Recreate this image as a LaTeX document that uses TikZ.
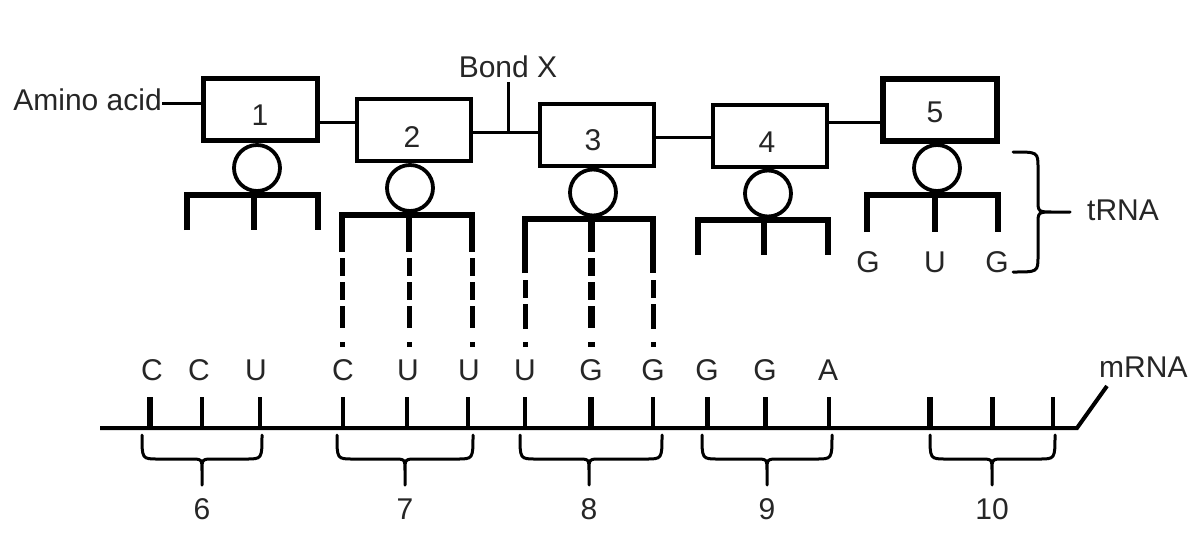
\documentclass[tikz,border=0pt]{standalone}
\usepackage{fontspec}
\setmainfont{Liberation Sans}

% brace under one codon of the mRNA: left end, right end, centre
\newcommand{\codonbrace}[3]{%
  \draw[curly] (#1,435) .. controls (#1,459) .. (#1+16,459) -- (#3-12,459)
      .. controls (#3,459) .. (#3,471) -- (#3,485)
    (#2,435) .. controls (#2,459) .. (#2-16,459) -- (#3+12,459)
      .. controls (#3,459) .. (#3,471);}

\begin{document}
\begin{tikzpicture}[x=1pt,y=-1pt,
  lbl/.style={font=\fontsize{30}{35}\selectfont, text=black!85, inner sep=0pt},
  box/.style={draw, line width=4.5pt, minimum width=114pt, minimum height=62pt, inner sep=0pt},
  loop/.style={draw, circle, line width=3.8pt, minimum size=46pt, inner sep=0pt},
  bond/.style={line width=3pt},
  arm/.style={line width=5.5pt, line join=miter},
  pairing/.style={line width=5pt, dash pattern=on 18pt off 6pt on 18pt off 6pt on 22pt off 14pt on 5pt},
  pairingb/.style={line width=5pt, dash pattern=on 18pt off 6pt on 25pt off 13pt on 5pt},
  strand/.style={line width=4pt, line join=miter},
  curly/.style={line width=3pt, line cap=round}]

\useasboundingbox[fill=white] (0,0) rectangle (1200,549);

% ---- amino acids (boxes) of the growing chain ----
\node[box] (b1) at (260.5,109.5) {};
\node[box] (b2) at (414,130) {};
\node[box] (b3) at (597,135) {};
\node[box] (b4) at (770,136) {};
\node[box, line width=6.5pt] (b5) at (940,110) {};

\node[lbl, anchor=base] (n1) at (260,125) {1};
\node[lbl, anchor=base] (n2) at (412,147) {2};
\node[lbl, anchor=base] (n3) at (593,150) {3};
\node[lbl, anchor=base] (n4) at (767,152) {4};
\node[lbl, anchor=base] (n5) at (935,122) {5};

\node[lbl, anchor=base east] (aa) at (162,110) {Amino acid};
\node[lbl, anchor=base] (bx) at (508,77) {Bond X};

% peptide bonds between neighbouring amino acids
\draw[bond] ([yshift=7pt]aa.base east) -- ([yshift=7pt]aa.base east -| b1.west);
\draw[bond] ([yshift=-12.5pt]b1.east) -- ([yshift=-12.5pt]b1.east -| b2.west);
\draw[bond] ([yshift=-2pt]b2.east) -- ([yshift=-2pt]b2.east -| b3.west);
\draw[bond] ([yshift=-5pt]bx.south) -- ([yshift=-2pt]b2.east -| bx.south);
\draw[bond] ([yshift=-2pt]b3.east) -- ([yshift=-2pt]b3.east -| b4.west);
\draw[bond] ([yshift=14pt]b4.east) -- ([yshift=14pt]b4.east -| b5.west);

% ---- tRNA loops ----
\node[loop] (c1) at (257,168) {};
\node[loop] (c2) at (410,188) {};
\node[loop] (c3) at (593,192.5) {};
\node[loop] (c4) at (768,193.5) {};
\node[loop] (c5) at (937,168) {};

% anticodon arms
\draw[arm] (187,230) |- (318,195) -- (318,230);
\draw[arm] (254,195) -- (254,230);

\draw[arm] (342,252) |- (472,215) -- (472,252);
\draw[arm] (409,215) -- (409,252);

\draw[arm] (525,273) |- (653,219) -- (653,273);
\draw[arm, line width=7pt] (591,219) -- (591,252);

\draw[arm] (698,255) |- (828,220) -- (828,255);
\draw[arm] (764,220) -- (764,255);

\draw[arm] (867,232) |- (998,195) -- (998,232);
\draw[arm] (935,195) -- (935,232);

% base pairing with the codons
\draw[pairing] (342,258) -- (342,347);
\draw[pairing] (409,258) -- (409,347);
\draw[pairing] (472,258) -- (472,347);
\draw[pairingb] (525,280) -- (525,347);
\draw[pairing, line width=7pt] (591,258) -- (591,347);
\draw[pairingb] (653,280) -- (653,347);

% anticodon of tRNA 5
\node[lbl, anchor=base] (g1) at (868,272) {G};
\node[lbl, anchor=base] (u1) at (935,272) {U};
\node[lbl, anchor=base] (g2) at (997,272) {G};

% tRNA brace and label
\node[lbl, anchor=base west] (trna) at (1087,220) {tRNA};
\draw[curly] (1013,152) .. controls (1038,152) .. (1038,168) -- (1038,200)
  .. controls (1038,212) .. (1054,212) -- (1070,212)
  (1054,212) .. controls (1038,212) .. (1038,224) -- (1038,256)
  .. controls (1038,272) .. (1013,272);

% ---- mRNA strand ----
\node[lbl, anchor=base west] (mr) at (1099,377) {mRNA};
\coordinate (ms) at (100,428);
\coordinate (me) at (1077,428);
\draw[strand] (ms) -- (me) -- ([xshift=8pt,yshift=-9pt]mr.base west);

\foreach \x/\w in {150/5.5pt,202/4pt,260/4pt,343/4.5pt,407/4pt,468/4.5pt,
                   525/4pt,591/5.5pt,653/4pt,707/5pt,765/5pt,829/4pt,
                   930/5.5pt,992/5pt,1053/4pt}
  \draw[line width=\w] (\x,397) -- (\x,428);

\foreach \x/\t in {152/C,199/C,256/U,343/C,408/U,469/U,525/U,591/G,653/G,707/G,765/G,828/A}
  \node[lbl, anchor=base] (base-\x) at (\x,380) {\t};

% codons
\codonbrace{142}{262}{202}
\codonbrace{337}{473}{405}
\codonbrace{520}{662}{589}
\codonbrace{702}{832}{767}
\codonbrace{930}{1055}{992}

\node[lbl, anchor=base] (k6) at (202,519) {6};
\node[lbl, anchor=base] (k7) at (405,519) {7};
\node[lbl, anchor=base] (k8) at (589,519) {8};
\node[lbl, anchor=base] (k9) at (767,519) {9};
\node[lbl, anchor=base] (k10) at (992,519) {10};

\end{tikzpicture}
\end{document}
